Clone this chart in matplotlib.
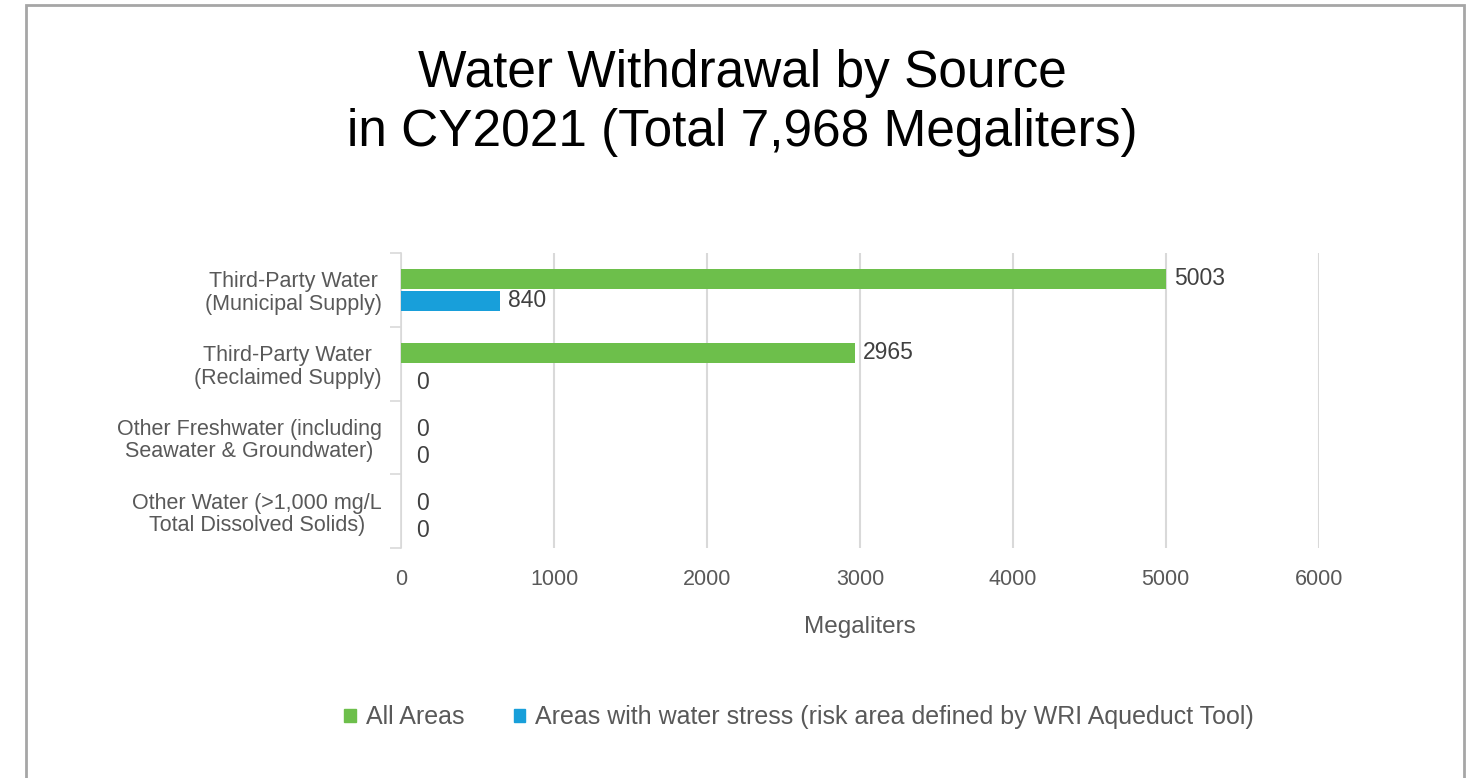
import matplotlib
matplotlib.use('Agg')
import matplotlib.pyplot as plt
from matplotlib.patches import Patch, Rectangle

plt.rcParams['font.family'] = ['Liberation Sans', 'DejaVu Sans']

categories = ['Third-Party Water\n(Municipal Supply)',
              'Third-Party Water\n(Reclaimed Supply)',
              'Other Freshwater (including\nSeawater & Groundwater)',
              'Other Water (>1,000 mg/L\nTotal Dissolved Solids)']
all_areas = [5003, 2965, 0, 0]
# bar length as drawn in the source (label reads 840)
stress_areas = [647, 0, 0, 0]
all_labels = ['5003', '2965', '0', '0']
stress_labels = ['840', '0', '0', '0']
x_ticks = [0, 1000, 2000, 3000, 4000, 5000, 6000]

green = '#6DBF4B'
blue = '#189FDA'
grey_txt = '#595959'

fig = plt.figure(figsize=(14.8, 7.78), dpi=100)
ax = fig.add_axes([0.271, 0.2956, 0.62, 0.3792])

pos = list(range(len(categories)))
h = 0.27
off = 0.149
ax.barh([p - off for p in pos], all_areas, height=h, color=green, zorder=3)
ax.barh([p + off for p in pos], stress_areas, height=h, color=blue, zorder=3)

# data labels (zero labels sit a bit further out and lower, as in the source)
for p, v, t in zip(pos, all_areas, all_labels):
    ax.annotate(t, (v, p - off), xytext=(8, 0) if v else (15, -3), textcoords='offset pixels',
                va='center', ha='left', fontsize=16.5, color='#404040')
for p, v, t in zip(pos, stress_areas, stress_labels):
    ax.annotate(t, (v, p + off), xytext=(8, 0) if v else (15, -8), textcoords='offset pixels',
                va='center', ha='left', fontsize=16.5, color='#404040')

ax.set_ylim(len(categories) - 0.5, -0.5)
ax.set_xlim(0, 6000)
ax.set_xticks(x_ticks)
ax.set_xticklabels([str(t) for t in x_ticks])
ax.set_yticks(pos)
ax.set_yticklabels(categories, multialignment='center', linespacing=1.1)
ax.set_yticks([p - 0.5 for p in pos] + [len(pos) - 0.5], minor=True)

ax.tick_params(axis='y', which='major', length=0, pad=14, labelsize=15.5, labelcolor=grey_txt)
ax.tick_params(axis='y', which='minor', length=8, width=1.2, color='#d9d9d9', direction='out')
ax.tick_params(axis='x', length=0, pad=15, labelsize=15.5, labelcolor=grey_txt)

ax.grid(axis='x', color='#d9d9d9', lw=1.5, zorder=0)
for s in ['top', 'right', 'bottom']:
    ax.spines[s].set_visible(False)
ax.spines['left'].set_color('#d9d9d9')
ax.spines['left'].set_linewidth(1.2)

ax.set_xlabel('Megaliters', fontsize=17.5, color=grey_txt, labelpad=19)

fig.text(0.5015, 0.868, 'Water Withdrawal by Source\nin CY2021 (Total 7,968 Megaliters)',
         ha='center', va='center', fontsize=37, linespacing=1.26, color='black')

handles = [Patch(color=green, label='All Areas'),
           Patch(color=blue, label='Areas with water stress (risk area defined by WRI Aqueduct Tool)')]
fig.legend(handles=handles, loc='center', bbox_to_anchor=(0.54, 0.078), ncol=2, frameon=False,
           fontsize=18, labelcolor=grey_txt, handlelength=0.45, handleheight=0.45,
           handletextpad=0.4, columnspacing=2.0)

fig.add_artist(Rectangle((0.0175, -0.05), 0.972, 1.044, transform=fig.transFigure,
                         fill=False, edgecolor='#a6a6a6', lw=2))

fig.savefig('out.png', dpi=100)
